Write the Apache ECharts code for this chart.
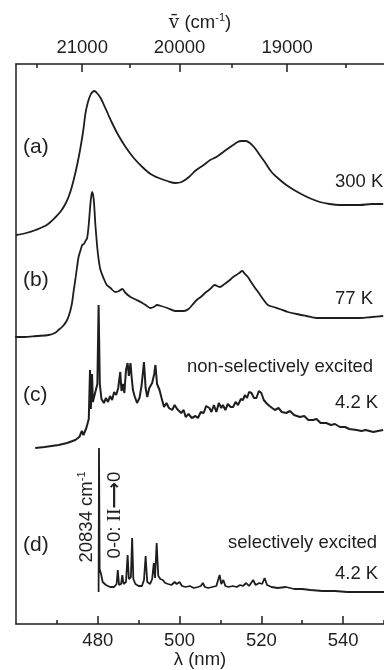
<!DOCTYPE html>
<html>
<head>
<meta charset="utf-8">
<script src="https://cdn.jsdelivr.net/npm/echarts@6/dist/echarts.min.js"></script>
<style>
  html, body { margin: 0; padding: 0; background: #fff; }
  #chart { width: 384px; height: 670px; }
</style>
</head>
<body>
<div id="chart"></div>
<script>
// tick values
const lambdaTicks = [480, 500, 520, 540];
const lambdaMinor = [470, 490, 510, 530, 550];
const waveTicks = [21000, 20000, 19000];        // cm-1
const waveMinor = [21500, 20500, 19500, 18500]; // cm-1

// spectra: [wavelength nm, intensity (stacked, arb. units)]
const specA = [
  [460, 389], [462.5, 391], [464.8, 394], [467.5, 399], [469.7, 407], [471, 413],
  [472.2, 421], [473.2, 431], [474.1, 444], [475, 460], [475.8, 477], [476.5, 495],
  [477, 511], [477.6, 522], [478.2, 529], [478.7, 532], [479.2, 533], [479.8, 531],
  [480.7, 526], [481.5, 519], [482.5, 510], [483.5, 501], [485, 489], [486.8, 477],
  [488.8, 466], [490.9, 457], [492.9, 450], [494.9, 446], [497, 443], [499, 441],
  [500.5, 442], [502.3, 447], [503.8, 453], [505.9, 459], [507.5, 464], [509, 467],
  [511, 473], [513.1, 479], [514.2, 482], [515.1, 483], [516.2, 483], [517.2, 481],
  [518.4, 476], [519.6, 469], [521, 461], [522.5, 452], [524.3, 445], [526.1, 439],
  [528, 434], [530.2, 429], [532.3, 425], [534.3, 422], [536.7, 420], [539.2, 419],
  [541.7, 419], [544.1, 419], [547, 420], [549.8, 420]
];

const specB = [
  [459.8, 287], [462, 287], [465, 288], [468, 289], [469.5, 291], [470.4, 294],
  [471.5, 298], [472.5, 304], [473.2, 312], [473.7, 321], [474.1, 333], [474.5, 344],
  [474.9, 356], [475.3, 367], [475.8, 374], [476.2, 379], [476.6, 380], [477, 383],
  [477.4, 386], [477.8, 400], [478.2, 420], [478.6, 432], [479, 425], [479.4, 400],
  [479.8, 380], [480.1, 368], [480.6, 355], [481.5, 345], [482.2, 339], [483.1, 336],
  [484.3, 332], [485.2, 333], [486, 335], [486.8, 331], [488, 327], [489.5, 324],
  [490.9, 321], [492, 318], [492.9, 316], [493.7, 317], [494.5, 319], [495.5, 318],
  [497, 316], [499, 313], [501.1, 313], [502.2, 315], [503.1, 319], [504.2, 324],
  [505.2, 327], [506.5, 332], [507.5, 335], [508.6, 339], [509.8, 337], [511, 340],
  [512.3, 344], [513.1, 347], [513.9, 349], [514.6, 351], [515.3, 353], [516, 350],
  [516.7, 347], [517.5, 342], [518.3, 337], [519.2, 332], [520.4, 325], [521.6, 319],
  [523, 317], [524.5, 315], [526.5, 312], [528.6, 310], [531, 308], [533.5, 306],
  [536.5, 306], [539.2, 306], [542, 306], [544.1, 306], [547, 307], [549.8, 308]
];

const specC = [
  [464.7, 176], [467, 177], [470.4, 179], [472.5, 181], [474.5, 184], [475.5, 187],
  [476.1, 193], [476.5, 189], [477.2, 196], [477.8, 205], [478.1, 254], [478.3, 215],
  [478.6, 250], [478.8, 222], [479.4, 232], [479.9, 240], [480.2, 319], [480.5, 240],
  [480.9, 225], [481.5, 221], [482, 226], [482.5, 222], [483, 228], [483.5, 224],
  [484, 232], [484.5, 229], [485, 236], [485.5, 252], [485.8, 233], [486.2, 240],
  [486.5, 231], [486.9, 254], [487.3, 261], [487.6, 248], [488, 261], [488.3, 246],
  [488.6, 234], [489, 228], [489.6, 221], [490.2, 226], [490.7, 238], [491.3, 262],
  [491.7, 236], [492.1, 227], [492.6, 236], [493.3, 241], [493.8, 250], [494.1, 259],
  [494.5, 240], [495.1, 234], [495.6, 226], [496.2, 217], [496.8, 221], [497.4, 216],
  [498.2, 214], [498.8, 219], [499.4, 215], [499.8, 217], [500.4, 211], [501, 214],
  [501.5, 207], [502.2, 210], [503, 206], [503.9, 208], [504.5, 206], [505.2, 212],
  [505.9, 211], [506.5, 218], [507.3, 216], [507.8, 212], [508.4, 219], [509, 212],
  [509.6, 221], [510.2, 216], [510.6, 219], [511.2, 214], [511.8, 220], [512.5, 217],
  [513.1, 217], [513.7, 222], [514.3, 219], [515, 225], [515.5, 224], [516, 229],
  [516.5, 226], [517, 232], [517.6, 231], [518.2, 226], [518.8, 226], [519.4, 233],
  [520, 231], [520.6, 224], [521.2, 221], [522, 218], [523.3, 214], [524.2, 216],
  [525, 212], [526.1, 211], [527, 213], [528, 209], [529.4, 207], [530.5, 208],
  [531.5, 204], [532.6, 204], [533.5, 205], [534.5, 201], [535.9, 201], [537, 199],
  [538, 200], [539.2, 197], [540.5, 197], [541.5, 195], [543.3, 194], [544.5, 193],
  [545.5, 194], [547.4, 192], [548.5, 193], [549.8, 194]
];

const specD = [
  [480.2, 32], [480.3, 176], [480.45, 55], [480.8, 50], [481.2, 42], [482, 39],
  [483, 37], [484, 37], [484.6, 40], [484.9, 54], [485.2, 39], [485.7, 40],
  [486, 49], [486.3, 40], [486.9, 42], [487.3, 69], [487.6, 45], [488.1, 47],
  [488.4, 86], [488.7, 45], [489.2, 40], [490, 38], [490.8, 38], [491.3, 44],
  [491.7, 68], [492.1, 42], [492.8, 40], [493.3, 45], [493.7, 61], [494, 46],
  [494.4, 81], [494.8, 48], [495.3, 45], [495.9, 44], [496.5, 41], [497.2, 40],
  [498, 39], [498.8, 42], [499.3, 40], [500, 42], [500.6, 38], [501.5, 37],
  [502.5, 38], [503.5, 36], [504.5, 37], [505.2, 38], [505.7, 41], [506.2, 37],
  [507, 36], [508, 37], [509, 38], [509.8, 49], [510.2, 40], [510.7, 44],
  [511.2, 38], [512, 37], [513, 38], [514, 37], [514.8, 39], [515.5, 38],
  [516.3, 41], [517, 38], [518, 44], [518.6, 39], [519.5, 41], [520.2, 40],
  [520.8, 46], [521.4, 39], [522.5, 37], [524, 36], [526, 37], [528, 35],
  [530, 35], [532, 34], [535, 33], [538, 33], [541, 32], [544, 32], [547, 32], [550, 32]
];

const INK = '#1e1e1e';
const FONT = '"Liberation Sans", Arial, sans-serif';
const FS = 18.5;

function toNm(w) { return 1e7 / w; }

function spectrum(name, data, smooth, width) {
  return {
    name: name,
    type: 'line',
    data: data,
    showSymbol: false,
    smooth: smooth,
    lineStyle: { color: INK, width: width },
    xAxisIndex: 0,
    yAxisIndex: 0,
    silent: true
  };
}

function text(x, y, str, size) {
  return {
    type: 'text',
    x: x,
    y: y,
    style: {
      text: str,
      font: (size || FS) + 'px ' + FONT,
      fill: INK,
      textAlign: 'left',
      textVerticalAlign: 'middle',
      align: 'left',
      verticalAlign: 'middle'
    }
  };
}

const chart = echarts.init(document.getElementById('chart'), null, { renderer: 'canvas' });

const option = {
  animation: false,
  backgroundColor: '#fff',
  grid: {
    left: 16, right: 0, top: 64, bottom: 46,
    containLabel: false,
    outerBoundsMode: 'none'
  },
  xAxis: [
    {
      // bottom, wavelength
      type: 'value', position: 'bottom', min: 460, max: 550,
      name: 'λ (nm)', nameLocation: 'middle', nameGap: 26, nameMoveOverlap: false,
      nameTextStyle: { fontFamily: FONT, fontSize: FS, color: INK },
      axisLine: { show: true, onZero: false, lineStyle: { color: INK, width: 1.5 } },
      axisTick: { show: true, inside: true, length: 8, customValues: lambdaTicks,
        lineStyle: { color: INK, width: 1.5 } },
      axisLabel: { show: true, customValues: lambdaTicks, margin: 7,
        fontFamily: FONT, fontSize: FS, color: INK },
      splitLine: { show: false }
    },
    {
      // top, wavenumber
      type: 'value', position: 'top', min: 460, max: 550,
      name: '{v|v\u0304}{n| (cm}{s|-1}{n|)}', nameLocation: 'middle', nameGap: 30,
      nameMoveOverlap: false,
      nameTextStyle: {
        rich: {
          v: { fontFamily: '"DejaVu Serif", serif', fontSize: FS, color: INK, lineHeight: 22 },
          n: { fontFamily: FONT, fontSize: FS, color: INK, lineHeight: 22 },
          s: { fontFamily: FONT, fontSize: 11, color: INK, verticalAlign: 'top', lineHeight: 22 }
        }
      },
      axisLine: { show: true, onZero: false, lineStyle: { color: INK, width: 1.5 } },
      axisTick: { show: true, inside: true, length: 8, customValues: waveTicks.map(toNm),
        lineStyle: { color: INK, width: 1.5 } },
      axisLabel: { show: true, customValues: waveTicks.map(toNm), margin: 7,
        formatter: function (v) { return String(Math.round(1e7 / v)); },
        fontFamily: FONT, fontSize: FS, color: INK },
      splitLine: { show: false }
    },
    {
      // top minor ticks
      type: 'value', position: 'top', min: 460, max: 550,
      axisLine: { show: false, onZero: false },
      axisTick: { show: true, inside: true, length: 4, customValues: waveMinor.map(toNm),
        lineStyle: { color: INK, width: 1.5 } },
      axisLabel: { show: false },
      splitLine: { show: false }
    },
    {
      // bottom minor ticks
      type: 'value', position: 'bottom', min: 460, max: 550,
      axisLine: { show: false, onZero: false },
      axisTick: { show: true, inside: true, length: 4, customValues: lambdaMinor,
        lineStyle: { color: INK, width: 1.5 } },
      axisLabel: { show: false },
      splitLine: { show: false }
    }
  ],
  yAxis: {
    type: 'value', min: 0, max: 560,
    axisLine: { show: true, onZero: false, lineStyle: { color: INK, width: 1.5 } },
    axisTick: { show: false },
    axisLabel: { show: false },
    splitLine: { show: false }
  },
  series: [
    spectrum('a', specA, 0.3, 1.8),
    spectrum('b', specB, 0.3, 1.8),
    spectrum('c', specC, false, 2),
    spectrum('d', specD, false, 1.8)
  ],
  graphic: [
    text(23, 147, '(a)', 21),
    text(23, 280, '(b)', 21),
    text(23, 395, '(c)', 21),
    text(23, 545, '(d)', 21),
    text(335, 182, '300 K'),
    text(335, 299, '77 K'),
    text(187, 367, 'non-selectively excited'),
    text(335, 403, '4.2 K'),
    text(228, 543, 'selectively excited'),
    text(335, 574, '4.2 K'),
    {
      type: 'text', x: 87, y: 517, rotation: Math.PI / 2,
      style: {
        text: '{n|20834 cm}{s|-1}',
        textAlign: 'center', textVerticalAlign: 'middle', align: 'center', verticalAlign: 'middle',
        rich: {
          n: { fontFamily: FONT, fontSize: FS, fill: INK, color: INK, lineHeight: 22 },
          s: { fontFamily: FONT, fontSize: 11, fill: INK, color: INK, verticalAlign: 'top', lineHeight: 22 }
        }
      }
    },
    {
      type: 'text', x: 115, y: 515, rotation: Math.PI / 2,
      style: {
        text: '{n|0-0: }{r|II}{a|⟶}{n|0}',
        textAlign: 'center', textVerticalAlign: 'middle', align: 'center', verticalAlign: 'middle',
        rich: {
          n: { fontFamily: FONT, fontSize: FS, fill: INK, color: INK, lineHeight: 22 },
          r: { fontFamily: '"Liberation Serif", serif', fontSize: FS + 1, fill: INK, color: INK, lineHeight: 22 },
          a: { fontFamily: '"DejaVu Sans", sans-serif', fontSize: FS, fill: INK, color: INK, lineHeight: 22, fontWeight: 'bold' }
        }
      }
    }
  ]
};

chart.setOption(option);
</script>
</body>
</html>
